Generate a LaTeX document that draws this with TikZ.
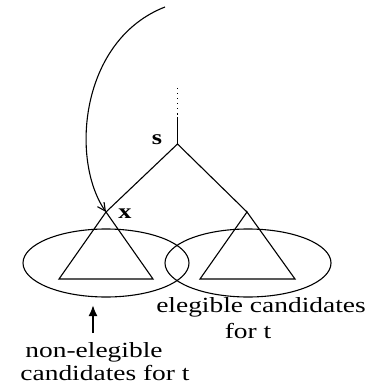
\documentclass[tikz,border=0pt]{standalone}
\usepackage{fontspec}
\setmainfont{Liberation Serif}
\usetikzlibrary{arrows.meta}
\begin{document}
\begin{tikzpicture}[x=0.5pt,y=-0.5pt,
  edge/.style={line width=0.55pt},
  lbl/.style={inner sep=0pt,anchor=base,font=\fontsize{10.8}{11}\selectfont},
  vlbl/.style={inner sep=0pt,anchor=base,font=\fontsize{10.5}{11}\selectfont\bfseries}]
\useasboundingbox (0,0) rectangle (370,389);
\coordinate (top) at (165,7);
\coordinate (dots) at (177.5,88);
\coordinate (stem) at (177.5,117);
\coordinate (s) at (177.5,144);
\coordinate (x) at (106,212);
\coordinate (r) at (247,212);
\coordinate (lbl) at (59,279);
\coordinate (lbr) at (153,279);
\coordinate (rbl) at (200,279);
\coordinate (rbr) at (295,279);
\coordinate (ptail) at (93,333);
\coordinate (phead) at (93,305);
% tree
\draw[edge,dotted] (dots) -- (stem);
\draw[edge] (stem) -- (s);
\draw[edge] (x) -- (s) -- (r);
\draw[edge] (x) -- (lbl) -- (lbr) -- cycle;
\draw[edge] (r) -- (rbl) -- (rbr) -- cycle;
% ellipses
\draw[edge] (106,263) ellipse [x radius=83, y radius=34];
\draw[edge] (248,263) ellipse [x radius=83, y radius=34];
% curved arrow
\draw[edge,-{Straight Barb[length=4pt,width=4pt]}] (top) .. controls (80,40) and (70,160) .. (x);
% pointer
\draw[line width=1pt,-{Latex[length=5.5pt,width=4.5pt]}] (ptail) -- (phead);
% labels
\node[vlbl] (slab) at (157,145) {\scalebox{1.25}[1]{s}};
\node[vlbl] (xlab) at (125,219) {\scalebox{1.25}[1]{x}};
\node[lbl] (el1) at (261,312) {\scalebox{1.27}[1]{elegible candidates}};
\node[lbl] (el2) at (248,338) {\scalebox{1.27}[1]{for t}};
\node[lbl] (ne1) at (94,357) {\scalebox{1.27}[1]{non-elegible}};
\node[lbl] (ne2) at (105,380) {\scalebox{1.27}[1]{candidates for t}};
\end{tikzpicture}
\end{document}
